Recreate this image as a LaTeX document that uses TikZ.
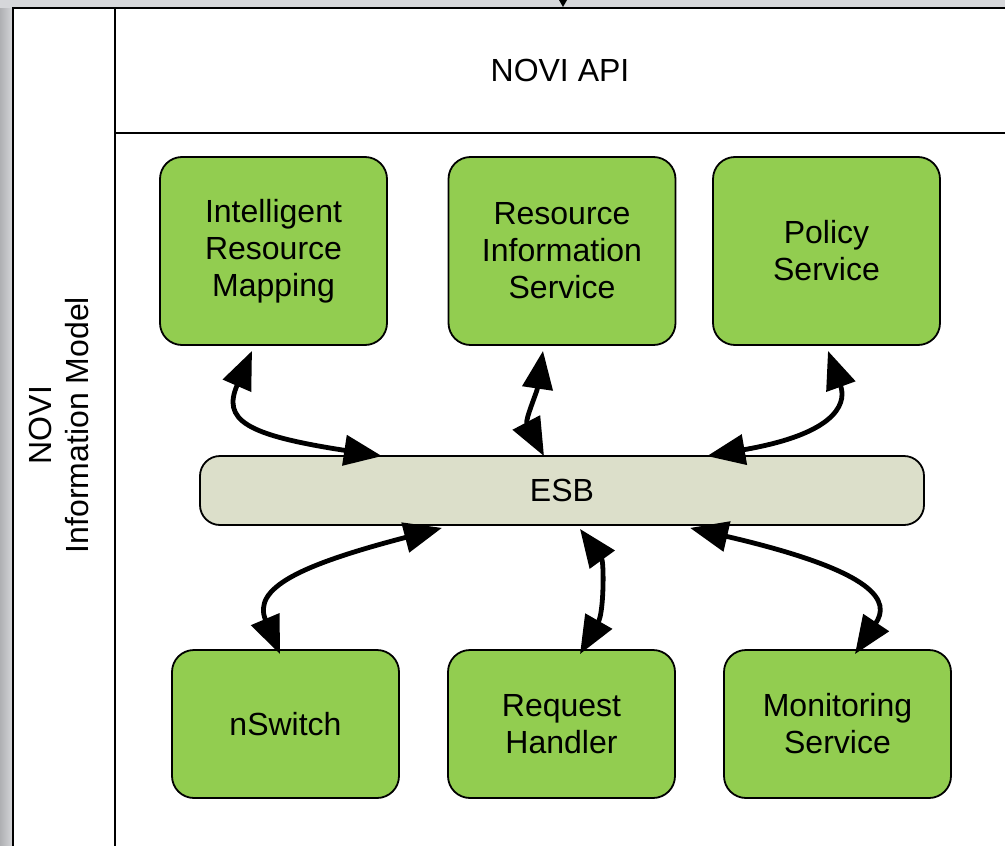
\documentclass[tikz,border=0pt]{standalone}
\usepackage{fontspec}
\setmainfont{Liberation Sans}
\usetikzlibrary{arrows.meta,calc}
\definecolor{boxgreen}{HTML}{92CD50}
\definecolor{esbfill}{HTML}{DCDFCA}
\definecolor{bggray}{HTML}{D6D7DA}
\begin{document}
\begin{tikzpicture}[x=1pt,y=-1pt,
  every node/.style={font=\fontsize{32}{37}\selectfont},
  gbox/.style={draw=black,line width=1.8pt,fill=boxgreen,rounded corners=22pt,
     minimum width=227pt,align=center,inner sep=0pt},
  esbbox/.style={draw=black,line width=1.8pt,fill=esbfill,rounded corners=20pt,
     minimum width=724pt,minimum height=69pt,inner sep=0pt},
  frameline/.style={line width=2.6pt,black},
  link/.style={line width=4.8pt,{Triangle[length=38pt,width=30pt]}-{Triangle[length=38pt,width=30pt]}}
]
\useasboundingbox (0,0) rectangle (1005,846);
% background
\fill[bggray] (0,0) rectangle (1005,846);
\shade[left color=bggray!82!black, right color=bggray] (0,8) rectangle (13,846);
\fill[white] (13,8) rectangle (1005,846);
% small tip at top edge
\fill[black] (559,0) -- (567,0) -- (563,7) -- cycle;
% frame
\draw[frameline] (13,846) -- (13,8) -- (1005,8);
\draw[frameline] (115,8) -- (115,846);
\draw[frameline] (115,133) -- (1005,133);
\node (api) at (560,70) {NOVI API};
\node[rotate=90,align=center] (model) at (59,425) {NOVI\\Information Model};
% boxes
\node[gbox,minimum height=188pt] (irm) at (273.5,251) {Intelligent\\Resource\\Mapping};
\node[gbox,minimum height=188pt] (ris) at (562,251) {Resource\\Information\\Service};
\node[gbox,minimum height=188pt] (pol) at (826.5,251) {Policy\\Service};
\node[esbbox] (esb) at (562,490.5) {ESB};
\node[gbox,minimum height=148pt] (nsw) at (285.5,724) {nSwitch};
\node[gbox,minimum height=148pt] (req) at (561.5,724) {Request\\Handler};
\node[gbox,minimum height=148pt] (mon) at (837.5,724) {Monitoring\\Service};
% connectors
\draw[link] ([xshift=-21.5pt,yshift=-5pt]irm.south) .. controls (222,420) and (245,435) .. ([xshift=-180pt,yshift=-1pt]esb.north);
\draw[link] ([xshift=-19pt,yshift=-5pt]ris.south) .. controls (537,392) and (525,420) .. ([xshift=-18pt,yshift=-1pt]esb.north);
\draw[link] ([xshift=1.5pt,yshift=-5pt]pol.south) .. controls (845,398) and (846,432) .. ([xshift=145pt,yshift=-1pt]esb.north);
\draw[link] ([xshift=-5.5pt,yshift=-5pt]nsw.north) .. controls (252,588) and (300,565) .. ([xshift=-120pt,yshift=-2pt]esb.south);
\draw[link] ([xshift=18.5pt,yshift=-5pt]req.north) .. controls (604,612) and (604,562) .. ([xshift=18pt,yshift=-3pt]esb.south);
\draw[link] ([xshift=17.5pt,yshift=-5pt]mon.north) .. controls (890,602) and (880,572) .. ([xshift=128pt,yshift=-2pt]esb.south);
\end{tikzpicture}
\end{document}
